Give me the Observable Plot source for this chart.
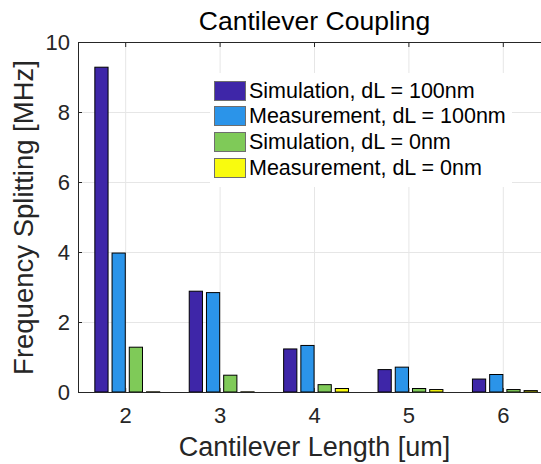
<!DOCTYPE html>
<html>
<head>
<meta charset="utf-8">
<script src="https://cdn.jsdelivr.net/npm/d3@7"></script>
<script src="https://cdn.jsdelivr.net/npm/@observablehq/plot@0.6"></script>
<style>
  html, body { margin: 0; padding: 0; background: #fff; overflow: hidden; }
  #wrap { position: relative; width: 541px; height: 464px; overflow: hidden; font-family: "Liberation Sans", Arial, sans-serif; }
  #wrap svg { overflow: hidden; }
  #legend { position: absolute; left: 210px; top: 73px; width: 302px; height: 114px; background: #fff; }
  .row { position: absolute; left: 4px; height: 20px; display: flex; align-items: center; }
  .sw { width: 30px; height: 18px; border: 1px solid #6e6e6e; box-sizing: content-box; }
  .lab { margin-left: 3px; font-size: 21.5px; color: #000; white-space: nowrap; line-height: 20px; }
</style>
</head>
<body>
<div id="wrap"></div>
<script>
// ---- data ----
const lengths = [2, 3, 4, 5, 6];
const seriesNames = [
  "Simulation, dL = 100nm",
  "Measurement, dL = 100nm",
  "Simulation, dL = 0nm",
  "Measurement, dL = 0nm"
];
const simulation100 = [9.28, 2.88, 1.23, 0.64, 0.37];
const measurement100 = [3.97, 2.84, 1.33, 0.71, 0.50];
const simulation0 = [1.28, 0.48, 0.21, 0.10, 0.07];
const measurement0 = [0.005, 0.005, 0.10, 0.07, 0.04];
const seriesColors = ["#3E26A8", "#2B94E9", "#7FCA58", "#F9FB0E"];
const yTicks = [0, 2, 4, 6, 8, 10];
const xDomain = [1.5, 6.5];
const yDomain = [0, 10];
const titleText = "Cantilever Coupling";
const xLabel = "Cantilever Length [um]";
const yLabel = "Frequency Splitting [MHz]";

const seriesValues = [simulation100, measurement100, simulation0, measurement0];
const table = lengths.flatMap((len, j) =>
  seriesValues.map((vals, i) => ({ len, idx: i, series: seriesNames[i], value: vals[j] }))
);

// grouped-bar layout (in x data units)
const groupShift = 0.022, step = 0.1824, barW = 0.14;
const font = "'Liberation Sans', Arial, sans-serif";
const grid = "#e6e6e6";
const axisColor = "#262626";
const fmt = d => String(d);

const chart = Plot.plot({
  width: 541,
  height: 464,
  marginLeft: 78,
  marginTop: 42,
  marginBottom: 72,
  marginRight: -9,
  style: { fontFamily: font, color: axisColor, background: "#fff", overflow: "hidden" },
  x: { type: "linear", domain: xDomain, range: [78, 550], label: null },
  y: { domain: yDomain, range: [392, 42], label: null },
  color: { domain: seriesNames, range: seriesColors },
  marks: [
    Plot.gridY({ ticks: yTicks, stroke: grid, strokeOpacity: 1 }),
    Plot.gridX({ ticks: lengths, stroke: grid, strokeOpacity: 1 }),
    Plot.rect(table, {
      x1: d => d.len + groupShift + (d.idx - 1.5) * step - barW / 2,
      x2: d => d.len + groupShift + (d.idx - 1.5) * step + barW / 2,
      y1: 0,
      y2: "value",
      fill: "series",
      stroke: "#000",
      strokeWidth: 1
    }),
    Plot.ruleY([yDomain[0], yDomain[1]], { stroke: axisColor }),
    Plot.ruleX([xDomain[0]], { stroke: axisColor }),
    Plot.axisY({ ticks: yTicks, tickSize: 4, dx: 4, tickFormat: () => "", label: null, stroke: axisColor }),
    Plot.axisY({ ticks: yTicks, tickSize: 0, tickPadding: 8.5, tickFormat: fmt, fontSize: 22, label: null, fill: axisColor }),
    Plot.axisX({ ticks: lengths, anchor: "top", tickSize: 4, dy: 4, tickFormat: () => "", label: null, stroke: axisColor }),
    Plot.axisX({ ticks: lengths, anchor: "bottom", tickSize: 4, dy: -4, tickFormat: () => "", label: null, stroke: axisColor }),
    Plot.axisX({ ticks: lengths, anchor: "bottom", tickSize: 0, tickPadding: 15, tickFormat: fmt, fontSize: 22, label: null, fill: axisColor }),
    Plot.text([titleText], { text: d => d, frameAnchor: "top", lineAnchor: "middle", textAnchor: "middle", dy: -21, fontSize: 26.5, fill: "#000", fontFamily: font }),
    Plot.text([xLabel], { text: d => d, frameAnchor: "bottom", lineAnchor: "middle", textAnchor: "middle", dy: 55, fontSize: 27, fill: axisColor, fontFamily: font }),
    Plot.text([yLabel], { text: d => d, frameAnchor: "left", lineAnchor: "middle", textAnchor: "middle", dx: -54, rotate: -90, fontSize: 27.5, fill: axisColor, fontFamily: font })
  ]
});

const wrap = document.getElementById("wrap");
wrap.appendChild(chart);

// legend overlay
const legend = document.createElement("div");
legend.id = "legend";
const rowTops = [7.7, 33.4, 59.1, 84.8];
seriesNames.forEach((name, i) => {
  const row = document.createElement("div");
  row.className = "row";
  row.style.top = rowTops[i] + "px";
  const sw = document.createElement("div");
  sw.className = "sw";
  sw.style.background = seriesColors[i];
  const lab = document.createElement("span");
  lab.className = "lab";
  lab.textContent = name;
  row.appendChild(sw);
  row.appendChild(lab);
  legend.appendChild(row);
});
wrap.appendChild(legend);
</script>
</body>
</html>
